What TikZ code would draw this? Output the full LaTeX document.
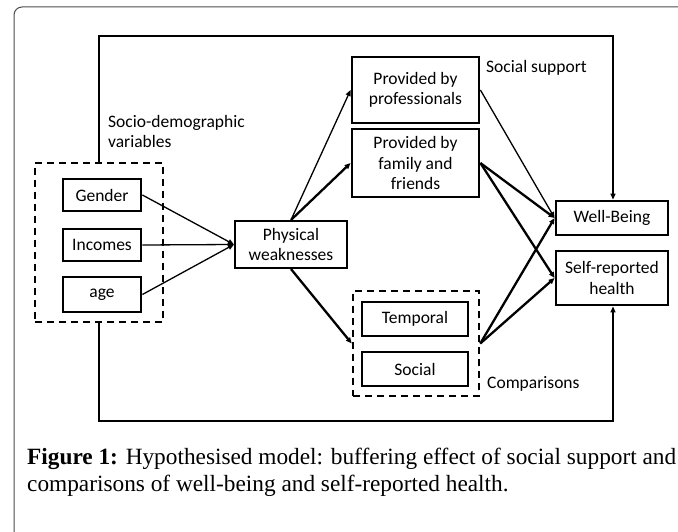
\documentclass[tikz,border=0pt]{standalone}
\usepackage{fontspec}
\setmainfont{Liberation Serif}
\newfontfamily\diag{Carlito}
\usetikzlibrary{arrows.meta}
\begin{document}
\begin{tikzpicture}[x=1pt,y=-1pt,
  box/.style={draw,line width=2.8pt,inner sep=0pt,align=center,font=\diag\fontsize{17.5}{20.5}\selectfont},
  thinbox/.style={box,line width=2.1pt},
  dbox/.style={draw,line width=2.5pt,dash pattern=on 7pt off 5pt,inner sep=0pt},
  lbl/.style={inner sep=0pt,align=left,font=\diag\fontsize{17.5}{20.5}\selectfont},
  arr/.style={line width=1.3pt,-{Triangle[length=6pt,width=5pt]}},
  tarr/.style={line width=2.3pt,-{Triangle[length=6pt,width=5pt]}},
  loopline/.style={line width=1.4pt}
]
\useasboundingbox (0,0) rectangle (678,532);
% outer frame
\draw[line width=1pt,gray!60!black,rounded corners=8pt] (14,545) -- (14,7) -- (690,7);
% socio-demographic group
\node[dbox,minimum width=128pt,minimum height=159pt] (socio) at (99,242.5) {};
\node[box,minimum width=78pt,minimum height=32pt] (gender) at (102,195) {Gender};
\node[box,minimum width=78pt,minimum height=32pt] (inc) at (102,245) {Incomes};
\node[box,minimum width=78pt,minimum height=35pt] (age) at (102,294.5) {age};
\node[lbl,anchor=base west] (soclbl) at (108,148) {Socio-demographic\\variables};
% physical
\node[thinbox,minimum width=112pt,minimum height=47pt] (phys) at (291,244.5) {Physical\\weaknesses};
% social support
\node[box,minimum width=127pt,minimum height=66pt] (prof) at (415.5,90) {Provided by\\professionals};
\node[box,minimum width=127pt,minimum height=68pt] (fam) at (415.5,163) {Provided by\\family and\\friends};
\node[lbl,anchor=base west] (sslbl) at (486,73) {Social support};
% comparisons
\node[dbox,minimum width=126pt,minimum height=105pt] (comp) at (416,343.5) {};
\node[box,minimum width=106pt,minimum height=34pt] (temp) at (415,319) {Temporal};
\node[box,minimum width=106pt,minimum height=34pt] (soc) at (415,369) {Social};
\node[lbl,anchor=base west] (cmplbl) at (487,388) {Comparisons};
% outcomes
\node[box,minimum width=112pt,minimum height=34pt] (wb) at (612,218) {Well-Being};
\node[box,minimum width=112pt,minimum height=54pt] (srh) at (612,278) {Self-reported\\health};
% arrows
\draw[arr] (gender.east) -- (phys.west);
\draw[arr] (inc.east) -- (phys.west);
\draw[arr] (age.east) -- (phys.west);
\draw[arr] (phys.north) -- (prof.west);
\draw[tarr] (phys.north) -- (fam.west);
\draw[tarr] (phys.south) -- (comp.west);
\draw[arr] (prof.east) -- (wb.west);
\draw[tarr] (fam.east) -- (wb.west);
\draw[tarr] (fam.east) -- (srh.west);
\draw[tarr] (comp.east) -- (wb.west);
\draw[tarr] (comp.east) -- (srh.west);
% loops
\coordinate (tl) at (99,36);
\coordinate (tr) at (613,36);
\coordinate (bl) at (99,421);
\coordinate (br) at (613,421);
\draw[loopline,-{Triangle[length=6pt,width=5pt]}] (socio.north) -- (tl) -- (tr) -- (tr |- wb.north);
\draw[loopline,-{Triangle[length=6pt,width=5pt]}] (socio.south) -- (bl) -- (br) -- (br |- srh.south);
% caption
\node[anchor=base west,inner sep=0pt,align=left,font=\fontsize{23.3}{27}\selectfont] (cap) at (27,491)
 {\textbf{Figure 1:} Hypothesised model: buffering effect of social support and\\comparisons of well-being and self-reported health.};
\end{tikzpicture}
\end{document}
